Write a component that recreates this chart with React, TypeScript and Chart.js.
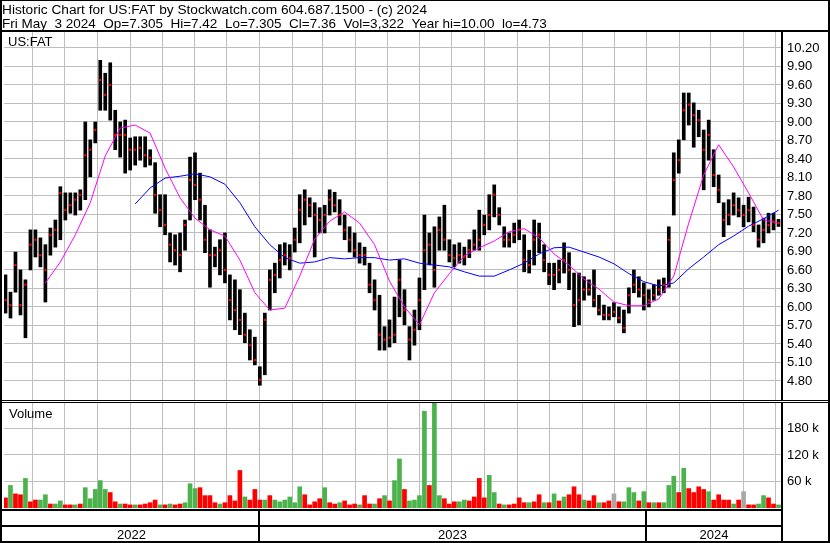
import React, { useEffect, useRef } from 'react';
import { Chart, registerables } from 'chart.js';

Chart.register(...registerables);

const TITLE = 'Historic Chart for US:FAT by Stockwatch.com 604.687.1500 - (c) 2024';
const SUBTITLE = 'Fri May  3 2024  Op=7.305  Hi=7.42  Lo=7.305  Cl=7.36  Vol=3,322  Year hi=10.00  lo=4.73';
const SYMBOL = 'US:FAT';
const VOLUME_LABEL = 'Volume';
const YEAR_LABELS = ['2022', '2023', '2024'];

// time axis in days relative to 1 Jun 2022
const FIRST_BAR_DAY = -25.09;
const BAR_STEP_DAYS = 4.7;
const X_MIN = -26.5;
const X_MAX = 706.7;
// month lengths from Jun 2022 to Apr 2024 (gives the first day of each month up to May 2024)
const MONTH_LENGTHS = [30, 31, 31, 30, 31, 30, 31, 31, 28, 31, 30, 31, 30, 31, 31, 30, 31, 30, 31, 31, 29, 31, 30];

// price bars (one bar per ~4.7 days)
const HIGH = [
  6.52, 6.24, 6.89, 6.60, 6.44, 7.25, 7.25, 7.12, 7.01, 7.28,
  7.41, 7.95, 7.85, 7.85, 7.85, 7.90, 9.00, 8.71, 9.00, 10.00,
  9.79, 9.96, 9.19, 9.00, 9.03, 8.74, 8.76, 8.76, 8.76, 8.55,
  8.34, 7.82, 7.82, 7.20, 7.17, 7.20, 7.41, 8.43, 8.50, 8.17,
  7.65, 7.25, 6.97, 7.09, 7.20, 6.52, 6.44, 6.28, 5.90, 5.63,
  5.51, 5.03, 5.90, 6.60, 6.71, 7.01, 7.04, 7.01, 7.28, 7.82,
  7.90, 7.77, 7.69, 7.61, 7.65, 7.90, 7.86, 7.74, 7.49, 7.30,
  7.20, 7.04, 6.97, 6.71, 6.44, 6.19, 5.68, 5.79, 6.16, 6.76,
  6.28, 5.68, 5.95, 6.47, 7.49, 7.20, 7.30, 7.46, 7.65, 7.09,
  7.01, 7.04, 6.97, 7.09, 7.25, 7.57, 7.49, 7.82, 7.98, 7.61,
  7.30, 7.20, 7.36, 7.41, 7.17, 6.92, 7.41, 7.36, 7.01, 6.71,
  6.71, 6.76, 7.04, 6.88, 6.55, 6.55, 6.49, 6.44, 6.60, 6.19,
  6.03, 6.00, 6.07, 6.00, 5.95, 6.31, 6.60, 6.49, 6.39, 6.28,
  6.36, 6.44, 6.47, 7.30, 8.50, 8.71, 9.47, 9.47, 9.31, 9.19,
  8.87, 9.03, 8.55, 8.14, 7.69, 7.74, 7.85, 7.77, 7.65, 7.78,
  7.62, 7.33, 7.44, 7.52, 7.52, 7.42,
];
const LOW = [
  5.90, 5.82, 6.24, 5.87, 5.50, 6.60, 6.81, 6.65, 6.08, 6.84,
  6.97, 7.09, 7.41, 7.52, 7.49, 7.57, 7.74, 8.11, 8.66, 9.19,
  9.19, 9.03, 8.55, 8.43, 8.17, 8.22, 8.30, 8.38, 8.27, 8.30,
  7.52, 7.30, 7.17, 6.73, 6.68, 6.57, 6.92, 7.41, 7.74, 7.41,
  6.88, 6.32, 6.65, 6.52, 6.39, 5.79, 5.63, 5.55, 5.42, 5.14,
  5.06, 4.73, 4.90, 5.95, 6.23, 6.47, 6.68, 6.60, 6.89, 7.04,
  7.33, 7.46, 6.81, 7.20, 7.20, 7.49, 7.54, 7.33, 7.09, 6.89,
  6.81, 6.71, 6.68, 6.23, 5.95, 5.30, 5.30, 5.35, 5.42, 5.84,
  5.71, 5.14, 5.38, 5.63, 6.28, 6.68, 6.32, 6.92, 6.92, 6.73,
  6.65, 6.71, 6.68, 6.80, 6.92, 6.92, 7.17, 7.25, 7.46, 7.33,
  6.97, 6.97, 7.04, 7.09, 6.57, 6.55, 6.68, 6.88, 6.57, 6.36,
  6.28, 6.39, 6.55, 6.28, 5.68, 5.71, 6.11, 6.19, 6.00, 5.87,
  5.79, 5.79, 5.84, 5.74, 5.58, 5.90, 6.23, 6.16, 5.95, 6.00,
  6.11, 6.19, 6.23, 6.32, 7.49, 8.17, 8.71, 8.95, 8.59, 8.76,
  7.90, 8.38, 7.95, 7.69, 7.14, 7.33, 7.49, 7.46, 7.30, 7.38,
  7.22, 6.97, 7.04, 7.20, 7.25, 7.305,
];
const CLOSE = [
  6.11, 6.03, 6.68, 6.03, 6.36, 7.01, 7.09, 6.84, 6.60, 7.17,
  7.25, 7.85, 7.57, 7.65, 7.74, 7.82, 8.46, 8.55, 8.87, 9.68,
  9.44, 9.60, 8.79, 8.79, 8.79, 8.55, 8.55, 8.58, 8.46, 8.42,
  7.82, 7.57, 7.33, 7.01, 6.92, 6.84, 7.33, 8.06, 7.98, 7.74,
  7.09, 6.84, 6.84, 6.92, 6.60, 6.11, 5.95, 5.79, 5.55, 5.38,
  5.14, 4.82, 5.79, 6.44, 6.52, 6.76, 6.84, 6.79, 7.09, 7.57,
  7.74, 7.65, 7.49, 7.41, 7.49, 7.74, 7.65, 7.49, 7.25, 7.09,
  6.92, 6.84, 6.84, 6.36, 6.11, 5.55, 5.47, 5.50, 5.55, 6.44,
  5.95, 5.47, 5.63, 6.11, 6.92, 7.01, 6.60, 7.25, 7.09, 6.84,
  6.79, 6.84, 6.81, 6.92, 7.01, 7.09, 7.33, 7.49, 7.82, 7.49,
  7.09, 7.09, 7.17, 7.25, 6.76, 6.68, 7.09, 7.17, 6.76, 6.52,
  6.52, 6.60, 6.76, 6.60, 6.03, 6.11, 6.28, 6.28, 6.11, 5.95,
  5.87, 5.87, 5.92, 5.82, 5.66, 6.19, 6.36, 6.28, 6.19, 6.11,
  6.19, 6.28, 6.36, 7.09, 8.06, 8.38, 9.19, 9.28, 9.11, 9.03,
  8.55, 8.79, 8.14, 7.90, 7.41, 7.49, 7.65, 7.57, 7.49, 7.57,
  7.33, 7.09, 7.25, 7.33, 7.38, 7.36,
];
// volume in thousands, direction: 1 up, -1 down, 0 unchanged
const VOLUME = [
  23, 51, 32, 30, 67, 14, 18, 18, 30, 9,
  9, 16, 7, 7, 7, 9, 46, 21, 42, 62,
  42, 35, 14, 9, 9, 7, 7, 7, 9, 12,
  18, 7, 7, 9, 7, 9, 12, 55, 44, 46,
  28, 28, 12, 9, 12, 28, 16, 85, 25, 18,
  42, 18, 18, 28, 18, 14, 18, 25, 12, 48,
  30, 7, 14, 21, 46, 12, 9, 12, 16, 7,
  9, 7, 28, 9, 9, 21, 28, 16, 62, 111,
  42, 16, 18, 28, 219, 51, 260, 28, 21, 9,
  14, 14, 18, 16, 25, 67, 23, 74, 35, 9,
  7, 7, 9, 23, 12, 12, 14, 30, 12, 12,
  32, 16, 25, 30, 48, 30, 18, 16, 28, 12,
  12, 16, 32, 14, 14, 46, 35, 16, 37, 12,
  12, 12, 12, 51, 72, 35, 90, 44, 35, 48,
  42, 37, 18, 30, 18, 18, 9, 18, 37, 7,
  7, 9, 28, 23, 9, 7,
];
const VOL_DIR = [
  -1, 1, -1, -1, 1, -1, -1, 1, 1, -1,
  1, 1, -1, -1, 1, -1, 1, 1, 1, 1,
  1, -1, -1, 1, -1, -1, 1, -1, -1, -1,
  -1, 1, -1, 1, -1, -1, 1, 1, 1, -1,
  -1, -1, -1, 1, -1, -1, -1, -1, 1, -1,
  -1, -1, 1, -1, 1, 1, 1, 1, 1, 1,
  -1, -1, -1, -1, 1, -1, -1, 1, -1, -1,
  -1, 1, -1, -1, 1, -1, 1, -1, 1, 1,
  -1, 1, 1, 1, 1, -1, 1, 1, -1, -1,
  -1, 1, 1, -1, -1, -1, -1, 1, 1, -1,
  1, -1, -1, -1, -1, 1, -1, -1, 1, -1,
  1, -1, 1, -1, -1, -1, 1, -1, -1, 1,
  -1, -1, 0, -1, 1, 1, 1, -1, 1, -1,
  1, -1, 1, 1, 1, -1, 1, -1, -1, -1,
  -1, 1, -1, -1, -1, -1, 1, -1, 0, -1,
  -1, 1, 1, -1, -1, 1,
];
// moving averages, sampled every MA_STEP bars
const MA_STEP = 3;
const MA_SHORT_START = 8;
const MA_SHORT = [
  6.39, 6.73, 7.17, 7.69, 8.45, 8.90, 8.95, 8.82, 8.25, 7.77,
  7.44, 7.25, 7.15, 6.76, 6.23, 5.95, 5.98, 6.50, 7.10, 7.39,
  7.54, 7.36, 7.01, 6.42, 6.00, 5.71, 6.23, 6.54, 6.83, 6.96,
  7.07, 7.22, 7.27, 7.12, 6.86, 6.68, 6.45, 6.29, 6.08, 6.02,
  6.02, 6.13, 6.50, 7.36, 8.14, 8.63, 8.27, 7.85, 7.41, 7.36,
];
const MA_LONG_START = 26;
const MA_LONG = [
  7.67, 7.93, 8.09, 8.12, 8.16, 8.11, 7.99, 7.69, 7.30, 7.01,
  6.80, 6.71, 6.73, 6.80, 6.78, 6.80, 6.80, 6.76, 6.78, 6.71,
  6.68, 6.65, 6.57, 6.50, 6.50, 6.60, 6.71, 6.86, 6.96, 6.97,
  6.89, 6.81, 6.70, 6.54, 6.41, 6.34, 6.39, 6.62, 6.81, 7.01,
  7.15, 7.31, 7.43, 7.57,
];

const PRICE_TICKS = [4.8, 5.1, 5.4, 5.7, 6.0, 6.3, 6.6, 6.9, 7.2, 7.5, 7.8, 8.1, 8.4, 8.7, 9.0, 9.3, 9.6, 9.9, 10.2];
const PRICE_MIN = 4.491;
const PRICE_MAX = 10.459;
const VOL_TICKS = [60, 120, 180];
const VOL_MIN = 0;
const VOL_MAX = 244.5;

const FONT = "'Liberation Sans', Arial, Helvetica, sans-serif";
const GRID = '#bebebe';

function monthStarts(): number[] {
  const out = [0];
  let acc = 0;
  for (const len of MONTH_LENGTHS) {
    acc += len;
    out.push(acc);
  }
  return out;
}
// 1 Jan 2023 and 1 Jan 2024 are month starts no. 7 and 19
const YEAR_START_IDX = [7, 19];
const barDay = (i: number) => FIRST_BAR_DAY + i * BAR_STEP_DAYS;

const framePlugin = {
  id: 'frame',
  beforeDatasetsDraw(chart: any) {
    const ctx = chart.ctx;
    const ca = chart.chartArea;
    const xs = chart.scales.x;
    ctx.save();
    ctx.strokeStyle = GRID;
    ctx.lineWidth = 1;
    ctx.beginPath();
    monthStarts().forEach((d) => {
      const col = Math.round(xs.getPixelForValue(d));
      if (col <= ca.left || col >= ca.right) return;
      ctx.moveTo(col + 0.5, ca.top);
      ctx.lineTo(col + 0.5, ca.bottom);
    });
    ctx.stroke();
    ctx.restore();
  },
  beforeDatasetDraw(chart: any, args: any) {
    const ds = chart.data.datasets[args.index];
    const s = chart.scales[ds.yAxisID];
    const ca = chart.chartArea;
    const ctx = chart.ctx;
    ctx.save();
    ctx.beginPath();
    ctx.rect(ca.left, s.top, ca.right - ca.left, s.bottom - s.top);
    ctx.clip();
  },
  afterDatasetDraw(chart: any) {
    chart.ctx.restore();
  },
  afterDraw(chart: any) {
    const ctx = chart.ctx;
    const W = chart.width;
    const H = chart.height;
    const ca = chart.chartArea;
    const xs = chart.scales.x;
    const ys = chart.scales.y;
    const months = monthStarts();
    ctx.save();
    ctx.fillStyle = '#000';
    ctx.textAlign = 'left';
    ctx.textBaseline = 'alphabetic';
    ctx.font = `13.7px ${FONT}`;
    ctx.fillText(TITLE, 2, 14);
    ctx.font = `13.5px ${FONT}`;
    ctx.fillText(SUBTITLE, 2, 28);
    // outer frame
    ctx.fillRect(0, 0, W, 1);
    ctx.fillRect(0, 0, 2, H);
    ctx.fillRect(W - 2, 0, 2, H);
    ctx.fillRect(0, H - 2, W, 2);
    ctx.fillRect(0, 30, W, 2);
    const axisX = Math.round(ca.right);
    ctx.fillRect(axisX - 1, 30, 2, H - 30);
    // pane separator
    const sepY = Math.round(ys.bottom);
    ctx.fillRect(0, sepY, W, 1);
    ctx.fillStyle = '#fff';
    ctx.fillRect(2, sepY + 1, W - 4, 1);
    ctx.fillStyle = '#000';
    ctx.fillRect(0, sepY + 2, W, 1);
    // bottom rows
    const vb = Math.round(ca.bottom) + 1;
    ctx.fillRect(0, vb, axisX + 1, 2);
    ctx.fillRect(0, vb + 16, axisX + 1, 2);
    const bounds = [ca.left];
    YEAR_START_IDX.forEach((mi) => {
      const p = Math.round(xs.getPixelForValue(months[mi]));
      bounds.push(p);
      ctx.fillRect(p - 1, vb, 2, H - vb);
    });
    bounds.push(ca.right);
    ctx.font = `13px ${FONT}`;
    ctx.textAlign = 'center';
    YEAR_LABELS.forEach((lab, i) => {
      ctx.fillText(lab, (bounds[i] + bounds[i + 1]) / 2, H - 4);
    });
    ctx.textAlign = 'left';
    ctx.fillText(SYMBOL, 8, 46);
    ctx.fillText(VOLUME_LABEL, 9, sepY + 18);
    ctx.restore();
  },
};

export default function App() {
  const ref = useRef<HTMLCanvasElement | null>(null);
  useEffect(() => {
    if (!ref.current) return;
    Chart.defaults.font.family = FONT;
    const volColors = VOL_DIR.map((d) => (d > 0 ? '#4cb34c' : d < 0 ? '#ff0000' : '#a8a8a8'));
    const chart = new Chart(ref.current, {
      type: 'bar',
      data: {
        datasets: [
          {
            type: 'scatter',
            data: CLOSE.map((c, i) => ({ x: barDay(i), y: c })),
            yAxisID: 'y',
            xAxisID: 'x',
            pointStyle: 'rect',
            pointRadius: 1.5,
            pointBackgroundColor: '#ff0000',
            pointBorderWidth: 0,
            showLine: false,
          } as any,
          {
            type: 'line',
            data: MA_SHORT.map((v, j) => ({ x: barDay(MA_SHORT_START + j * MA_STEP), y: v })),
            yAxisID: 'y',
            xAxisID: 'x',
            borderColor: '#ff00ff',
            borderWidth: 1,
            pointRadius: 0,
            tension: 0,
          } as any,
          {
            type: 'line',
            data: MA_LONG.map((v, j) => ({ x: barDay(MA_LONG_START + j * MA_STEP), y: v })),
            yAxisID: 'y',
            xAxisID: 'x',
            borderColor: '#0000ff',
            borderWidth: 1,
            pointRadius: 0,
            tension: 0,
          } as any,
          {
            type: 'bar',
            data: HIGH.map((h, i) => ({ x: barDay(i), y: [LOW[i], h] })),
            yAxisID: 'y',
            xAxisID: 'x',
            backgroundColor: '#000',
            barThickness: 3,
            grouped: false,
            borderWidth: 0,
          } as any,
          {
            type: 'bar',
            data: VOLUME.map((v, i) => ({ x: barDay(i), y: v })),
            yAxisID: 'yv',
            xAxisID: 'x',
            backgroundColor: volColors,
            barThickness: 4,
            grouped: false,
            borderWidth: 0,
          } as any,
        ],
      },
      options: {
        responsive: false,
        animation: false,
        devicePixelRatio: 1,
        layout: { padding: { left: 2, top: 32, right: 0, bottom: 0 } },
        plugins: {
          legend: { display: false },
          tooltip: { enabled: false },
          title: { display: false },
        },
        scales: {
          x: {
            type: 'linear',
            position: 'bottom',
            offset: false,
            min: X_MIN,
            max: X_MAX,
            afterFit: (s: any) => {
              s.height = 35;
            },
            ticks: { display: false },
            grid: { display: false, drawTicks: false },
            border: { display: false },
          },
          y: {
            type: 'linear',
            position: 'right',
            stack: 'panes',
            stackWeight: 368,
            min: PRICE_MIN,
            max: PRICE_MAX,
            afterBuildTicks: (s: any) => {
              s.ticks = PRICE_TICKS.map((v) => ({ value: v }));
            },
            afterFit: (s: any) => {
              s.width = 48;
            },
            ticks: {
              autoSkip: false,
              padding: 5,
              color: '#000',
              font: { family: FONT, size: 13 },
              callback: (v: any) => Number(v).toFixed(2),
            },
            grid: { color: GRID, lineWidth: 1, drawTicks: false },
            border: { display: false },
          },
          yv: {
            type: 'linear',
            position: 'right',
            stack: 'panes',
            stackWeight: 108,
            min: VOL_MIN,
            max: VOL_MAX,
            afterBuildTicks: (s: any) => {
              s.ticks = VOL_TICKS.map((v) => ({ value: v }));
            },
            afterFit: (s: any) => {
              s.width = 48;
            },
            ticks: {
              autoSkip: false,
              padding: 5,
              color: '#000',
              font: { family: FONT, size: 13 },
              callback: (v: any) => `${v} k`,
            },
            grid: { color: GRID, lineWidth: 1, drawTicks: false },
            border: { display: false },
          },
        } as any,
      },
      plugins: [framePlugin],
    });
    return () => chart.destroy();
  }, []);
  return (
    <div style={{ position: 'fixed', left: 0, top: 0, width: 830, height: 543, background: '#fff' }}>
      <canvas ref={ref} width={830} height={543} style={{ display: 'block', width: 830, height: 543 }} />
    </div>
  );
}
